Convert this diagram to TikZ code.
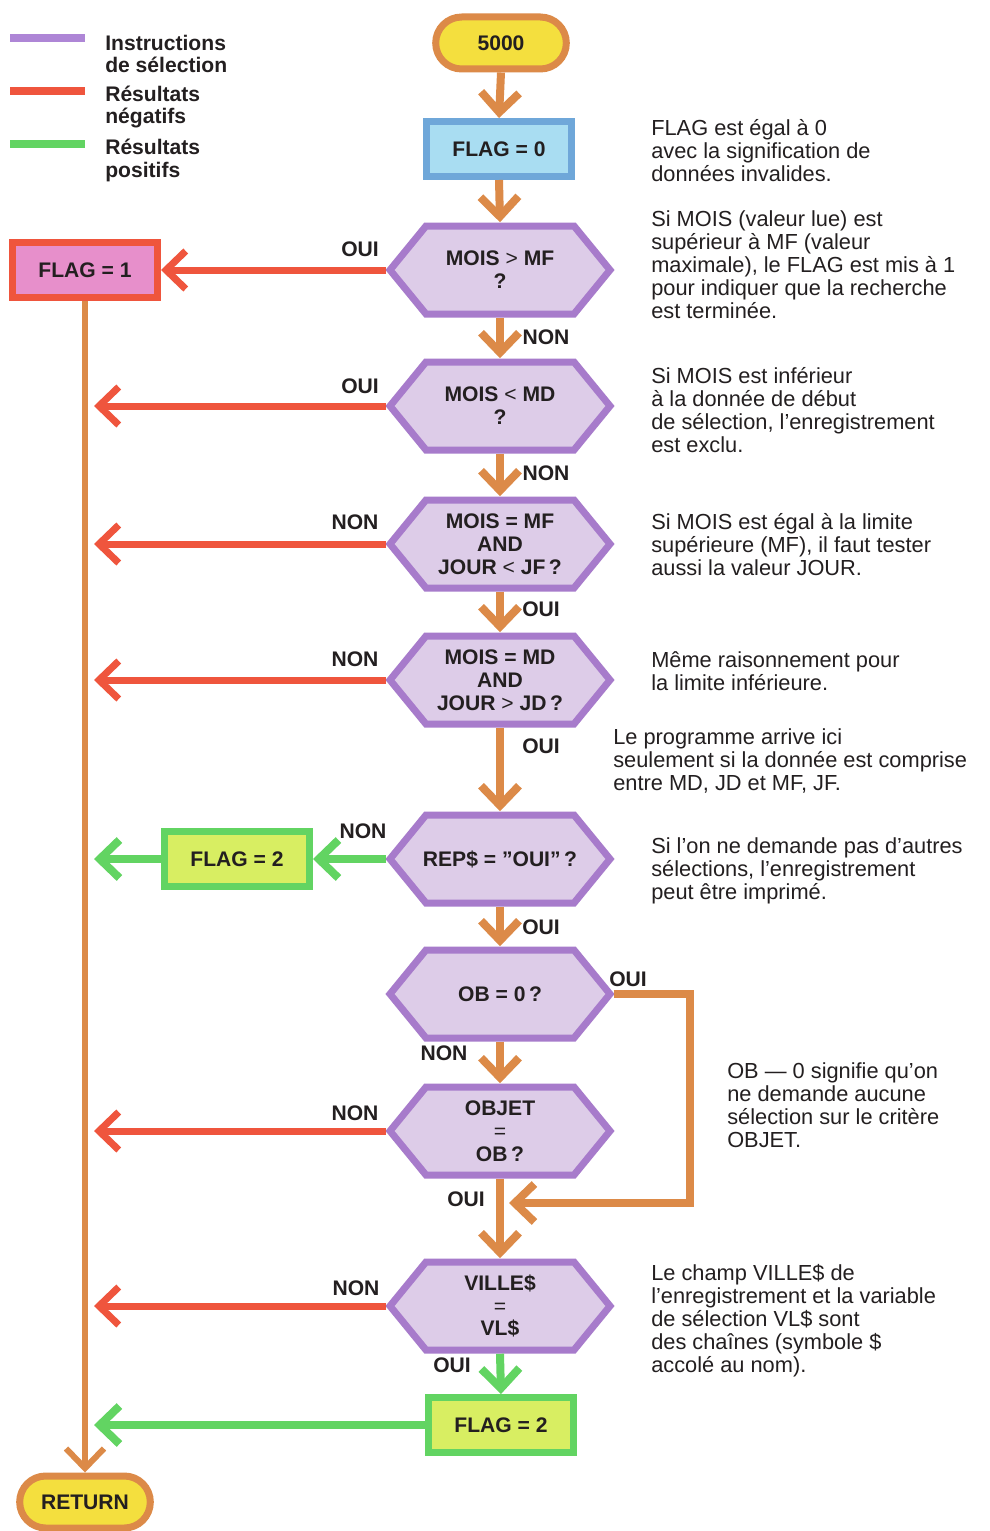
\documentclass[tikz,border=0pt]{standalone}
\usepackage{fontspec}
\setmainfont{Liberation Sans}
\usetikzlibrary{arrows.meta,shapes.misc}

\newlength\pxu
\setlength\pxu{0.025cm}

\definecolor{orng}{HTML}{DC8A48}
\definecolor{redl}{HTML}{EF553D}
\definecolor{grnl}{HTML}{62D462}
\definecolor{purpB}{HTML}{A77BCB}
\definecolor{purpF}{HTML}{DDCCE8}
\definecolor{legpurple}{HTML}{AE86D6}
\definecolor{termyel}{HTML}{F4DF3E}
\definecolor{blueB}{HTML}{6FA7D9}
\definecolor{blueF}{HTML}{A9DDF2}
\definecolor{pinkF}{HTML}{E78FCB}
\definecolor{limeF}{HTML}{D8EE62}
\definecolor{ink}{HTML}{231F20}

\tikzset{
  boldtxt/.style={font=\bfseries\fontsize{15pt}{16.3pt}\selectfont, text=ink},
  lbl/.style={boldtxt, inner sep=0pt},
  legtext/.style={boldtxt, anchor=west, align=left, inner sep=0pt},
  swatch/.style={rectangle, inner sep=0pt, minimum width=75*\pxu, minimum height=8*\pxu},
  termbox/.style={rounded rectangle, draw=orng, fill=termyel, line width=7*\pxu,
    minimum width=140*\pxu, minimum height=52*\pxu, boldtxt},
  procbox/.style={rectangle, line width=7*\pxu, minimum width=145*\pxu,
    minimum height=55*\pxu, boldtxt},
  hexline/.style={draw=purpB, fill=purpF, line width=7*\pxu, line join=miter},
  hexnode/.style={rectangle, inner sep=0pt, minimum width=227*\pxu,
    minimum height=95*\pxu, align=center, boldtxt},
  notetxt/.style={font=\fontsize{15.5pt}{16.4pt}\selectfont, text=ink, align=left,
    anchor=west, inner sep=0pt},
  tipV/.style={-{Straight Barb[length=14pt,width=27pt]}},
  flowline/.style={draw=orng, line width=8*\pxu, tipV},
  negline/.style={draw=redl, line width=7*\pxu, tipV},
  posline/.style={draw=grnl, line width=8*\pxu, tipV},
}

% decision step: hexagon outline plus a named node carrying the text
\newcommand\decision[4]{%
  \path[hexline] (#2-110,#3) -- (#2-74,#3-44) -- (#2+74,#3-44)
    -- (#2+110,#3) -- (#2+74,#3+44) -- (#2-74,#3+44) -- cycle;
  \node[hexnode] (#1) at (#2,#3) {#4};
}

\begin{document}
\begin{tikzpicture}[x=0.025cm, y=-0.025cm, line cap=butt]
\path[fill=white, use as bounding box] (0,0) rectangle (989,1531);

% legend
\node[swatch, fill=legpurple] (sw1) at (47.5,38) {};
\node[swatch, fill=redl] (sw2) at (47.5,91) {};
\node[swatch, fill=grnl] (sw3) at (47.5,144) {};
\node[legtext] (lg1) at (105,54) {Instructions\\de sélection};
\node[legtext] (lg2) at (105,107) {Résultats\\négatifs};
\node[legtext] (lg3) at (105,160) {Résultats\\positifs};

% start and end
\node[termbox] (start) at (501,43) {5000};
\node[termbox] (ret) at (85,1502) {RETURN};

% process boxes
\node[procbox, draw=blueB, fill=blueF] (f0) at (499,149) {FLAG = 0};
\node[procbox, draw=redl, fill=pinkF] (f1) at (85,270) {FLAG = 1};
\node[procbox, draw=grnl, fill=limeF] (f2a) at (237,859) {FLAG = 2};
\node[procbox, draw=grnl, fill=limeF] (f2b) at (501,1425) {FLAG = 2};

% decisions
\decision{h1}{500}{270}{MOIS {\mdseries >} MF\\?}
\decision{h2}{500}{406}{MOIS {\mdseries <} MD\\?}
\decision{h3}{500}{544}{MOIS = MF\\AND\\JOUR {\mdseries <} JF\,?}
\decision{h4}{500}{680}{MOIS = MD\\AND\\JOUR {\mdseries >} JD\,?}
\decision{h5}{500}{859}{REP\$ = ”OUI”\,?}
\decision{h6}{500}{994}{OB = 0\,?}
\decision{h7}{500}{1131}{OBJET\\{\mdseries =}\\OB\,?}
\decision{h8}{500}{1306}{VILLE\$\\{\mdseries =}\\VL\$}

% main flow
\draw[flowline] (start.south) -- (f0.north);
\draw[flowline] (f0.south) -- (h1.north);
\draw[flowline] (h1.south) -- (h2.north);
\draw[flowline] (h2.south) -- (h3.north);
\draw[flowline] (h3.south) -- (h4.north);
\draw[flowline] (h4.south) -- (h5.north);
\draw[flowline] (h5.south) -- (h6.north);
\draw[flowline] (h6.south) -- (h7.north);
\draw[flowline] (h7.south) -- (h8.north);

% bypass when OB = 0
\coordinate (loopc) at (690,1203);
\coordinate (loopend) at (509,1203);
\draw[flowline, line join=miter] (h6.east) -| (loopc) -- (loopend);

% return rail
\coordinate (rail) at (94,0);
\draw[flowline, line width=6*\pxu] (f1.south) -- (ret.north);

% negative results
\draw[negline] (h1.west) -- (f1.east);
\draw[negline] (h2.west) -- (h2.west -| rail);
\draw[negline] (h3.west) -- (h3.west -| rail);
\draw[negline] (h4.west) -- (h4.west -| rail);
\draw[negline] (h7.west) -- (h7.west -| rail);
\draw[negline] (h8.west) -- (h8.west -| rail);

% positive results
\draw[posline] (h5.west) -- (f2a.east);
\draw[posline] (f2a.west) -- (f2a.west -| rail);
\draw[posline] (h8.south) -- (f2b.north);
\draw[posline] (f2b.west) -- (f2b.west -| rail);

% branch labels
\node[lbl] (a1) at (360,249) {OUI};
\node[lbl] (a2) at (546,337) {NON};
\node[lbl] (a3) at (360,386) {OUI};
\node[lbl] (a4) at (546,473) {NON};
\node[lbl] (a5) at (355,522) {NON};
\node[lbl] (a6) at (541,609) {OUI};
\node[lbl] (a7) at (355,659) {NON};
\node[lbl] (a8) at (541,746) {OUI};
\node[lbl] (a9) at (363,831) {NON};
\node[lbl] (a10) at (541,927) {OUI};
\node[lbl] (a11) at (628,979) {OUI};
\node[lbl] (a12) at (444,1053) {NON};
\node[lbl] (a13) at (355,1113) {NON};
\node[lbl] (a14) at (466,1199) {OUI};
\node[lbl] (a15) at (356,1288) {NON};
\node[lbl] (a16) at (452,1365) {OUI};

% explanatory notes
\node[notetxt] (n1) at (651,151) {FLAG est égal à 0\\avec la signification de\\données invalides.};
\node[notetxt] (n2) at (651,265) {Si MOIS (valeur lue) est\\supérieur à MF (valeur\\maximale), le FLAG est mis à 1\\pour indiquer que la recherche\\est terminée.};
\node[notetxt] (n3) at (651,410) {Si MOIS est inférieur\\à la donnée de début\\de sélection, l’enregistrement\\est exclu.};
\node[notetxt] (n4) at (651,545) {Si MOIS est égal à la limite\\supérieure (MF), il faut tester\\aussi la valeur JOUR.};
\node[notetxt] (n5) at (651,671) {Même raisonnement pour\\la limite inférieure.};
\node[notetxt] (n6) at (613,761) {Le programme arrive ici\\seulement si la donnée est comprise\\entre MD, JD et MF, JF.};
\node[notetxt] (n7) at (651,871) {Si l’on ne demande pas d’autres\\sélections, l’enregistrement\\peut être imprimé.};
\node[notetxt] (n8) at (727,1105) {OB — 0 signifie qu’on\\ne demande aucune\\sélection sur le critère\\OBJET.};
\node[notetxt] (n9) at (651,1321) {Le champ VILLE\$ de\\l’enregistrement et la variable\\de sélection VL\$ sont\\des chaînes (symbole \$\\accolé au nom).};
\end{tikzpicture}
\end{document}
